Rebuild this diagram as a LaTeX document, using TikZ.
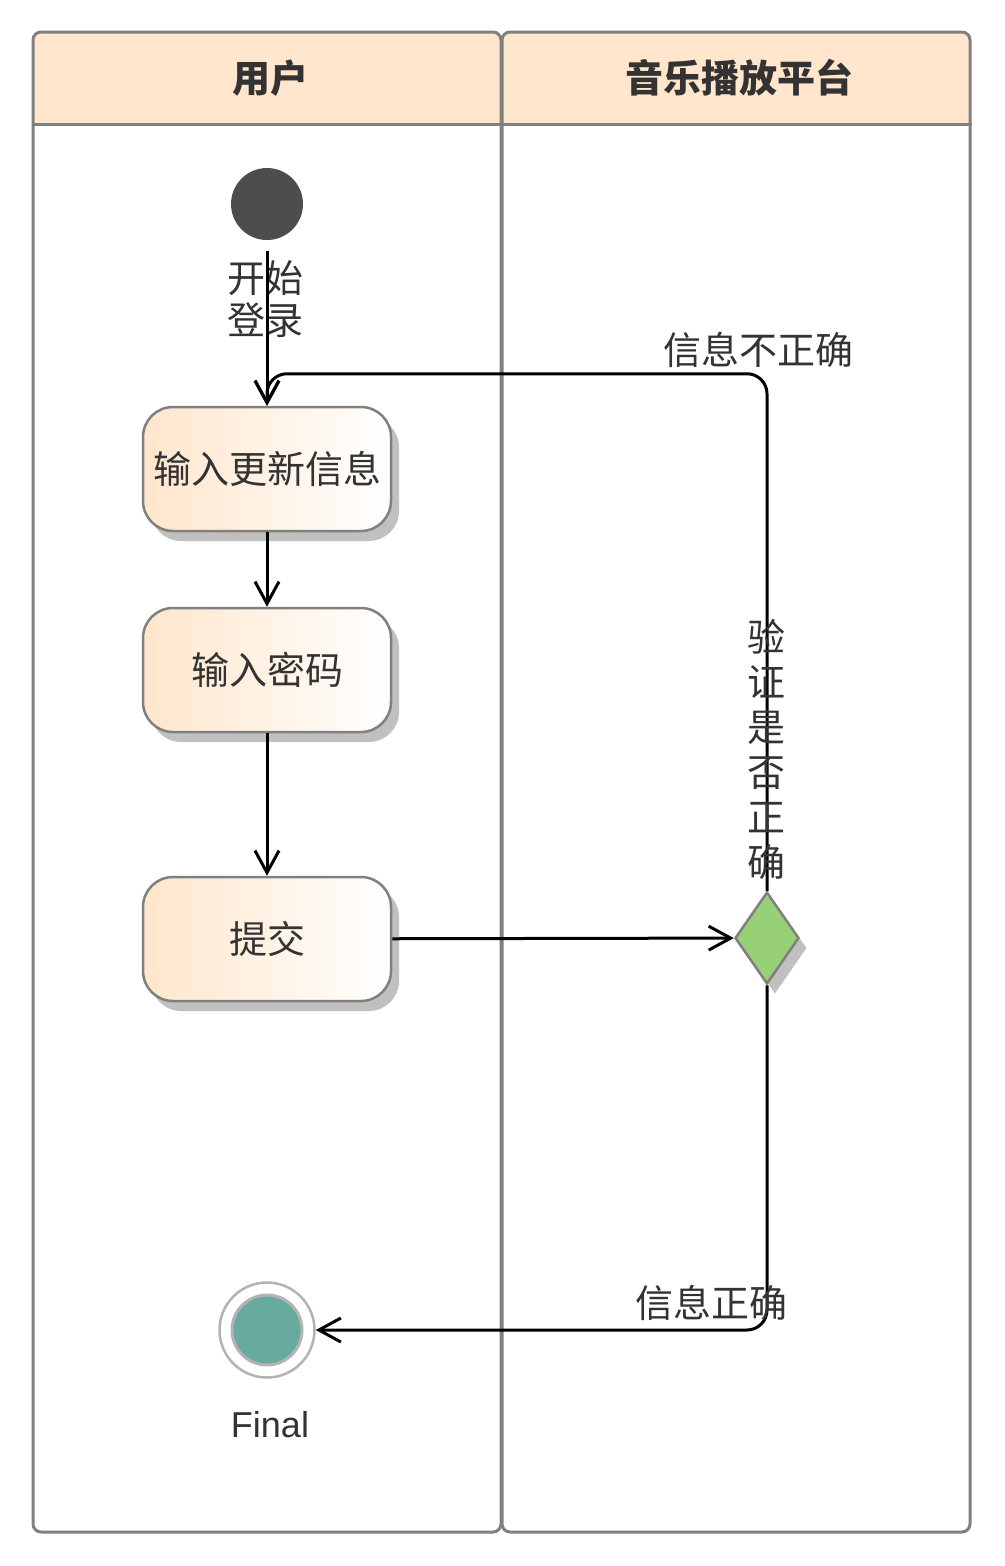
\documentclass[tikz,border=0pt]{standalone}
\usepackage{fontspec}
\setmainfont{Liberation Sans}
\newfontfamily\cjk{Noto Sans CJK SC}
\usetikzlibrary{arrows.meta,shapes.geometric,shadows,calc}
\definecolor{peach}{HTML}{FFE6CC}
\definecolor{edgegray}{HTML}{808080}
\definecolor{ink}{HTML}{333333}
\definecolor{startfill}{HTML}{4D4D4D}
\definecolor{okgreen}{HTML}{97D077}
\definecolor{endfill}{HTML}{67AB9F}
\definecolor{ring}{HTML}{B3B3B3}
\definecolor{shade}{HTML}{C0C0C0}

\begin{document}
\begin{tikzpicture}[x=1pt,y=-1pt,
  lane/.style={draw=edgegray, line width=3pt, rounded corners=8pt,
    minimum width=468pt, minimum height=1500pt, inner sep=0pt},
  head/.style={font=\cjk\bfseries\fontsize{38}{42}\selectfont, text=ink},
  action/.style={draw=edgegray, line width=2.5pt, rounded corners=30pt,
    minimum width=248pt, minimum height=124pt, inner sep=0pt,
    left color=peach, right color=white,
    font=\cjk\fontsize{38}{42}\selectfont, text=ink,
    drop shadow={shadow xshift=8pt, shadow yshift=-10pt, fill=shade, opacity=1}},
  flow/.style={draw=black, line width=3pt,
    -{Straight Barb[length=22pt,width=24pt]}},
  lbl/.style={font=\cjk\fontsize{38}{42}\selectfont, text=ink, inner sep=0pt, align=center},
]
\useasboundingbox (0,0) rectangle (1004,1566);

% swimlane headers
\begin{scope}
  \clip[rounded corners=8pt] (33,32) rectangle (501,1532);
  \fill[peach] (33,32) rectangle (501,126);
\end{scope}
\begin{scope}
  \clip[rounded corners=8pt] (502,32) rectangle (970,1532);
  \fill[peach] (502,32) rectangle (970,126);
\end{scope}

% swimlanes
\node[lane] (laneU) at (267,782) {};
\node[lane] (laneP) at (736,782) {};
\draw[edgegray, line width=3pt] ($(laneU.north west)+(0,94)$) -- ($(laneU.north east)+(0,94)$);
\draw[edgegray, line width=3pt] ($(laneP.north west)+(0,94)$) -- ($(laneP.north east)+(0,94)$);
\node[head] (headU) at (270,78) {用户};
\node[head] (headP) at (739,78) {音乐播放平台};

% start state
\node[circle, fill=startfill, minimum size=72pt, inner sep=0pt] (start) at (267,204) {};
\node[lbl] (startlbl) at (265,299) {开始\\登录};

% actions
\node[action] (b1) at (267,469) {输入更新信息};
\node[action] (b2) at (267,670) {输入密码};
\node[action] (b3) at (267,939) {提交};

% decision
\node[diamond, draw=edgegray, line width=2.5pt, fill=okgreen, aspect=0.7,
  minimum width=64pt, minimum height=92pt, inner sep=0pt,
  drop shadow={shadow xshift=8pt, shadow yshift=-10pt, fill=shade, opacity=1}] (dec) at (767,938) {};

% final state
\node[circle, draw=ring, line width=2.5pt, fill=white, minimum size=95pt, inner sep=0pt] (fin) at (267,1330) {};
\node[circle, draw=ring, line width=3pt, fill=endfill, minimum size=70pt, inner sep=0pt] (fincore) at (fin) {};
\node[font=\fontsize{36}{40}\selectfont, text=ink] (finlbl) at (270,1425) {Final};

% transitions
\draw[flow, shorten <=11pt] (start.south) -- (b1.north);
\draw[flow] (b1) -- (b2);
\draw[flow] (b2) -- (b3);
\draw[flow] (b3) -- (dec);
\draw[flow, rounded corners=20pt] (dec.north) |- ($(b1.north)+(0,-32)$) -- (b1.north);
\draw[flow, rounded corners=20pt] (dec.south) |- (fin.east);

% transition labels
\node[lbl] (wrong) at (758,350) {信息不正确};
\node[lbl, font=\cjk\fontsize{38}{45}\selectfont] (check) at (766,749) {验\\证\\是\\否\\正\\确};
\node[lbl] (right) at (711,1303) {信息正确};
\end{tikzpicture}
\end{document}
